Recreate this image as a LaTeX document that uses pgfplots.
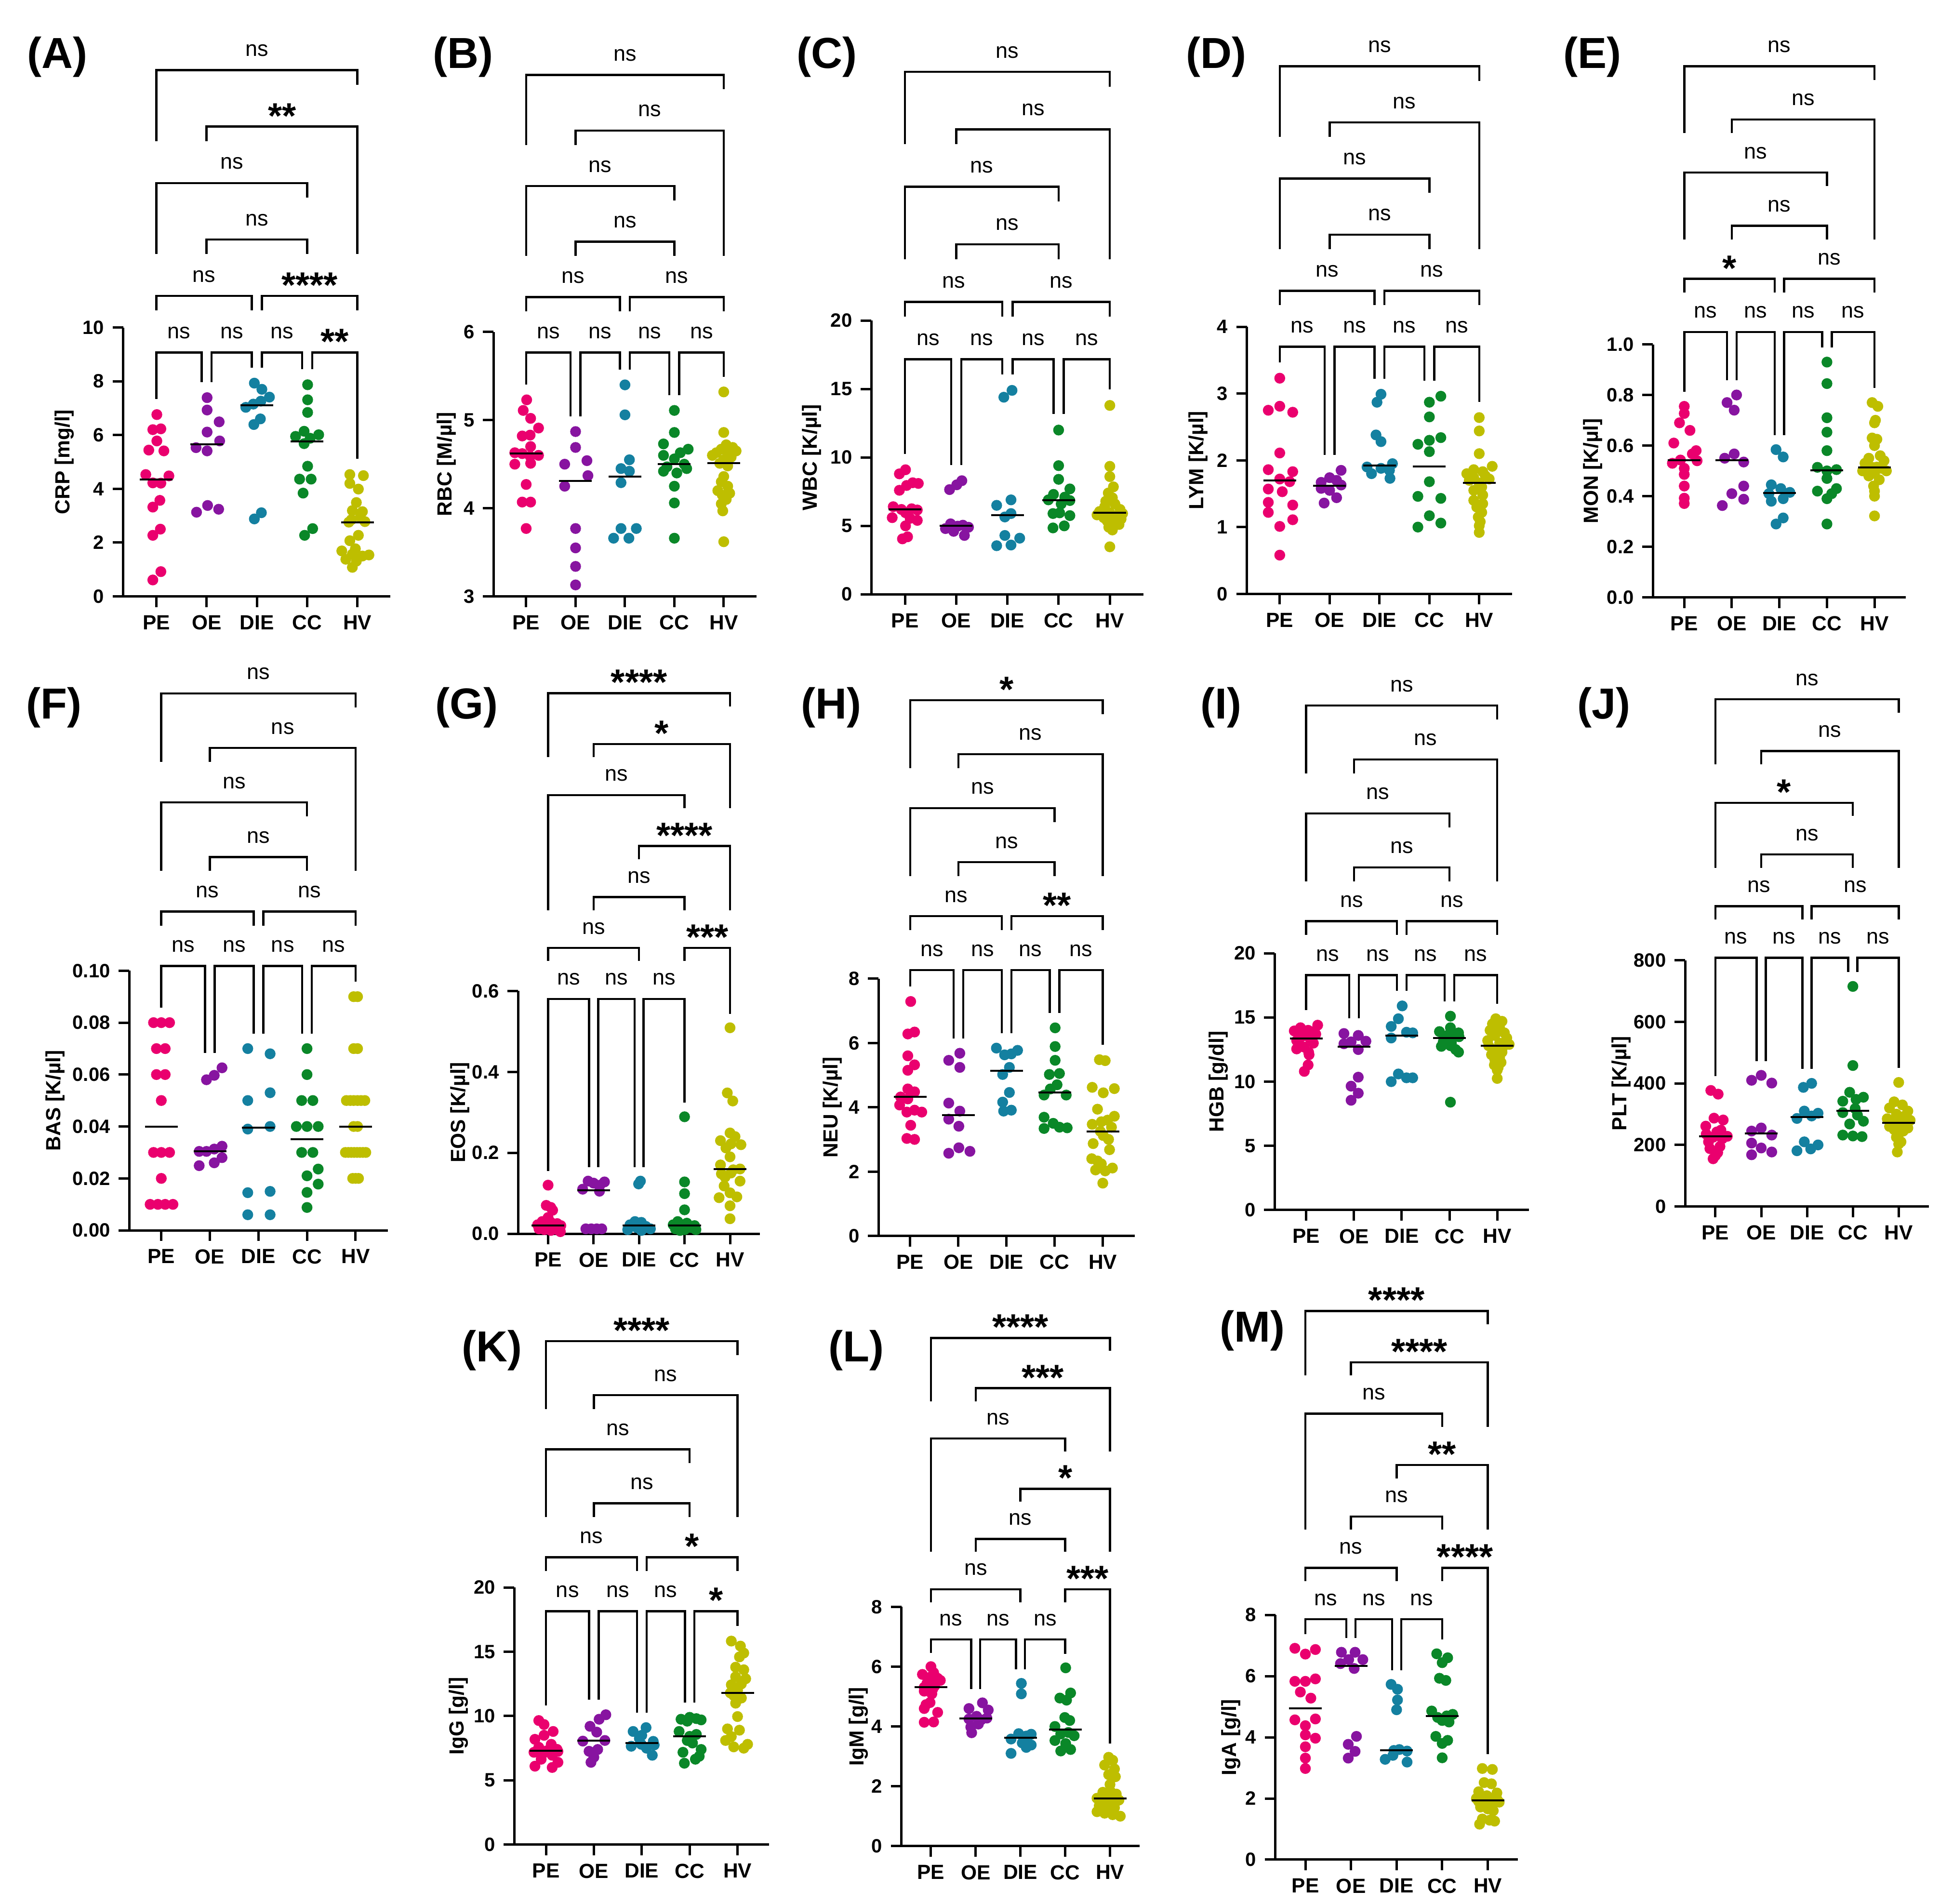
\documentclass[border=0pt]{standalone}
\usepackage{fontspec}
\setmainfont{Liberation Sans}
\usepackage{pgfplots}
\pgfplotsset{compat=1.18}
\definecolor{cpe}{RGB}{234,0,110}
\definecolor{coe}{RGB}{135,20,160}
\definecolor{cdie}{RGB}{20,128,160}
\definecolor{ccc}{RGB}{10,135,40}
\definecolor{chv}{RGB}{190,190,0}
\tikzset{
 brk/.style={line width=0.9pt, black, line join=miter},
 lns/.style={anchor=base, yshift=5.8pt, inner sep=0pt, font=\fontsize{9}{10}\selectfont},
 lst/.style={anchor=base, yshift=-0.7pt, inner sep=0pt, font=\bfseries\fontsize{15}{16}\selectfont},
}
\pgfplotsset{
 gp/.style={
  scale only axis, clip=false, anchor=south west,
  axis x line*=bottom, axis y line*=left,
  axis line style={line width=1pt},
  xmin=-0.66, xmax=4.66,
  xtick={0,1,2,3,4}, xticklabels={PE,OE,DIE,CC,HV},
  tick align=outside, major tick length=4.4pt,
  tick style={line width=1pt, black},
  minor tick num=0,
  scaled y ticks=false,
  /pgf/number format/assume math mode=true,
  yticklabel style={font=\bfseries\fontsize{8}{9}\selectfont},
  xticklabel style={font=\bfseries\fontsize{8.5}{10}\selectfont},
  ylabel style={font=\bfseries\fontsize{8.5}{10}\selectfont, anchor=center},
 },
 gpe/.style={only marks, mark=*, mark size=2.05pt, color=cpe},
 goe/.style={only marks, mark=*, mark size=2.05pt, color=coe},
 gdie/.style={only marks, mark=*, mark size=2.05pt, color=cdie},
 gcc/.style={only marks, mark=*, mark size=2.05pt, color=ccc},
 ghv/.style={only marks, mark=*, mark size=2.05pt, color=chv},
 med/.style={only marks, mark=-, mark size=6.8pt, color=black, mark options={line width=0.8pt}},
}
\def\Sp{0.21}
\def\Gp{0.156}
\def\nstxt{ns}
\newcommand\brk[6]{%
  \pgfmathsetmacro\bT{\Lone+(#3-1)*\Sp}%
  \pgfmathsetmacro\bL{ifthenelse(#4<0,\Lone+(-1*(#4)-1)*\Sp+\Gp,#4)}%
  \pgfmathsetmacro\bR{ifthenelse(#5<0,\Lone+(-1*(#5)-1)*\Sp+\Gp,#5)}%
  \pgfmathsetmacro\bM{(#1+#2)/2}%
  \def\btxt{#6}%
  \ifx\btxt\nstxt\def\bsty{lns}\else\def\bsty{lst}\fi
  \edef\btmp{\noexpand\draw[brk] ({axis cs:#1,0}|-{rel axis cs:0,\bL}) -- ({axis cs:#1,0}|-{rel axis cs:0,\bT}) -- ({axis cs:#2,0}|-{rel axis cs:0,\bT}) -- ({axis cs:#2,0}|-{rel axis cs:0,\bR});
   \noexpand\node[\bsty] at ({axis cs:\bM,0}|-{rel axis cs:0,\bT}) {#6};}%
  \btmp}
\begin{document}
\begin{tikzpicture}
\path[use as bounding box] (0,0) rectangle (810.6pt,-790pt);
%% ---------------- A
\begin{axis}[gp, at={(51.12pt,-247.5pt)}, width=110.98pt, height=111.6pt,
 ymin=0, ymax=10, ytick={0,2,4,6,8,10}, ylabel={CRP [mg/l]},
 ylabel style={at={(axis description cs:-0.220,0.5)}}]
\addplot[gpe] table[x expr=\thisrow{d},y=v]{d v
0.01 6.76
-0.07 6.2
0.09 6.23
0.01 5.78
-0.15 5.44
0.15 5.41
-0.21 4.53
0.25 4.48
-0.07 4.22
0.09 4.21
0.07 3.57
-0.07 3.32
0.08 2.5
-0.07 2.27
0.09 0.92
-0.07 0.61
};
\addplot[goe] table[x expr=1+\thisrow{d},y=v]{d v
0.01 7.39
0.01 6.93
0.25 6.49
0.01 6.11
0.26 5.78
-0.21 5.53
0.01 5.41
0.02 3.38
-0.2 3.13
0.24 3.24
};
\addplot[gdie] table[x expr=2+\thisrow{d},y=v]{d v
-0.05 7.93
0.1 7.70
0.25 7.41
0.08 7.26
-0.07 7.15
-0.22 7.03
0.07 6.6
-0.06 6.39
0.09 3.11
-0.05 2.88
};
\addplot[gcc] table[x expr=3+\thisrow{d},y=v]{d v
0.01 7.87
0.01 7.31
0.01 6.84
-0.06 6.14
0.23 6.01
-0.23 5.95
0.06 5.88
-0.06 5.68
0.01 4.84
-0.15 4.36
0.08 4.36
-0.08 3.84
0.11 2.52
-0.05 2.27
};
\addplot[ghv] table[x expr=4+\thisrow{d},y=v]{d v
-0.15 4.53
0.12 4.49
-0.15 4.2
0.02 3.99
-0.02 3.49
-0.1 3.19
0.1 3.15
0.06 2.95
-0.12 2.85
0.15 2.78
-0.17 2.76
0.02 2.27
-0.15 2.07
-0.04 1.77
-0.31 1.69
-0.1 1.57
0.23 1.54
0.1 1.5
-0.23 1.38
-0.02 1.31
-0.1 1.08
};
\addplot[med] coordinates {(0,4.34) (1,5.65) (2,7.1) (3,5.76) (4,2.76)};
\def\Lone{0.907}
\brk{0}{0.9}{1}{0.734}{0.797}{ns}
\brk{1.1}{1.9}{1}{0.797}{0.851}{ns}
\brk{2.1}{2.9}{1}{0.851}{0.845}{ns}
\brk{3.1}{4}{1}{0.845}{0.511}{**}
\brk{0}{1.9}{2}{-1}{-1}{ns}
\brk{2.1}{4}{2}{-1}{-1}{****}
\brk{1}{3}{3}{-2}{-2}{ns}
\brk{0}{3}{4}{-2}{-3}{ns}
\brk{1}{4}{5}{-4}{-2}{**}
\brk{0}{4}{6}{-4}{-5}{ns}
\end{axis}
%% ---------------- B
\begin{axis}[gp, at={(204.86pt,-247.5pt)}, width=109.06pt, height=109.72pt,
 ymin=3, ymax=6, ytick={3,4,5,6}, ylabel={RBC [M/µl]},
 ylabel style={at={(axis description cs:-0.179,0.5)}}]
\addplot[gpe] table[x expr=\thisrow{d},y=v]{d v
0.01 5.23
-0.06 5.11
0.09 5.02
0.25 4.91
-0.08 4.82
0.08 4.83
0.09 4.70
-0.23 4.63
-0.08 4.62
0.25 4.60
0.08 4.59
-0.23 4.50
0.09 4.51
0 4.27
-0.08 4.07
0.09 4.07
0 3.77
};
\addplot[goe] table[x expr=1+\thisrow{d},y=v]{d v
0 4.87
0 4.69
-0.22 4.50
0.23 4.54
0.25 4.37
-0.22 4.25
0 3.77
0 3.55
0 3.34
0 3.13
};
\addplot[gdie] table[x expr=2+\thisrow{d},y=v]{d v
0 5.40
0 5.06
0.09 4.55
-0.08 4.45
0.09 4.42
-0.08 4.29
-0.08 3.77
0.23 3.77
-0.23 3.66
0.08 3.66
};
\addplot[gcc] table[x expr=3+\thisrow{d},y=v]{d v
0 5.11
0 4.86
-0.22 4.73
0.28 4.67
0.12 4.63
-0.22 4.60
0 4.56
0.2 4.50
-0.15 4.47
0.25 4.45
-0.22 4.42
0.05 4.40
0 4.25
0 4.06
0 3.66
};
\addplot[ghv] table[x expr=4+\thisrow{d},y=v]{d v
0 5.32
0 4.86
0.05 4.72
0.18 4.69
-0.05 4.67
0.25 4.65
-0.15 4.63
0.08 4.62
-0.23 4.60
0.15 4.58
0 4.55
-0.08 4.51
0.08 4.48
0 4.36
-0.05 4.30
0.08 4.25
-0.12 4.20
0.12 4.17
-0.03 4.15
0.05 4.10
-0.05 4.05
-0.02 3.97
0 3.62
};
\addplot[med] coordinates {(0,4.62) (1,4.31) (2,4.36) (3,4.50) (4,4.51)};
\def\Lone{0.922}
\brk{0}{0.9}{1}{0.801}{0.681}{ns}
\brk{1.1}{1.9}{1}{0.681}{0.858}{ns}
\brk{2.1}{2.9}{1}{0.858}{0.761}{ns}
\brk{3.1}{4}{1}{0.761}{0.831}{ns}
\brk{0}{1.9}{2}{-1}{-1}{ns}
\brk{2.1}{4}{2}{-1}{-1}{ns}
\brk{1}{3}{3}{-2}{-2}{ns}
\brk{0}{3}{4}{-2}{-3}{ns}
\brk{1}{4}{5}{-4}{-2}{ns}
\brk{0}{4}{6}{-4}{-5}{ns}
\end{axis}
%% ---------------- C
\begin{axis}[gp, at={(361.6pt,-246.64pt)}, width=113.05pt, height=113.6pt,
 ymin=0, ymax=20, ytick={0,5,10,15,20}, ylabel={WBC [K/µl]},
 ylabel style={at={(axis description cs:-0.219,0.5)}}]
\addplot[gpe] table[x expr=\thisrow{d},y=v]{d v
0.01 9.1
-0.11 8.8
0.15 8.15
0.26 8.1
0.03 7.95
-0.11 7.6
-0.23 6.4
0.13 6.25
-0.07 6.2
0.24 6.16
0.01 5.96
-0.25 5.6
0.1 5.55
0.24 5.4
0.01 5.0
0.05 4.2
-0.05 4.05
};
\addplot[goe] table[x expr=1+\thisrow{d},y=v]{d v
0.11 8.3
0.01 8.0
-0.13 7.65
-0.11 5.15
0.13 5.05
0.03 4.98
0.24 4.9
-0.21 4.8
-0.05 4.6
0.16 4.3
};
\addplot[gdie] table[x expr=2+\thisrow{d},y=v]{d v
0.09 14.9
-0.07 14.4
0.07 6.9
-0.21 6.5
0.07 5.9
-0.05 5.65
-0.05 4.3
0.24 4.1
0.07 3.6
-0.21 3.55
};
\addplot[gcc] table[x expr=3+\thisrow{d},y=v]{d v
0 12.0
0 9.4
0 8.4
0.22 7.7
-0.1 7.3
0.12 7.1
-0.2 6.9
0.22 6.85
0.05 6.6
0.02 5.95
-0.11 5.9
0.22 5.75
0.11 5.0
-0.11 4.85
};
\addplot[ghv] table[x expr=4+\thisrow{d},y=v]{d v
0 13.8
0 9.35
0 8.6
0.07 7.85
-0.03 7.4
0.05 7.05
-0.08 6.8
0.1 6.6
-0.1 6.4
0.2 6.2
-0.2 6.05
0 5.96
0.25 5.9
-0.25 5.8
0.12 5.7
-0.12 5.6
0.22 5.5
-0.05 5.35
0.08 5.2
0.18 5.1
-0.02 4.9
0.05 4.7
0 3.47
};
\addplot[med] coordinates {(0,6.2) (1,5.0) (2,5.8) (3,6.87) (4,5.96)};
\def\Lone{0.8586}
\brk{0}{0.9}{1}{0.513}{0.473}{ns}
\brk{1.1}{1.9}{1}{0.473}{0.803}{ns}
\brk{2.1}{2.9}{1}{0.803}{0.658}{ns}
\brk{3.1}{4}{1}{0.658}{0.748}{ns}
\brk{0}{1.9}{2}{-1}{-1}{ns}
\brk{2.1}{4}{2}{-1}{-1}{ns}
\brk{1}{3}{3}{-2}{-2}{ns}
\brk{0}{3}{4}{-2}{-3}{ns}
\brk{1}{4}{5}{-4}{-2}{ns}
\brk{0}{4}{6}{-4}{-5}{ns}
\end{axis}
%% ---------------- D
\begin{axis}[gp, at={(517.5pt,-246.46pt)}, width=110.12pt, height=110.84pt,
 ymin=0, ymax=4, ytick={0,1,2,3,4}, ylabel={LYM [K/µl]},
 ylabel style={at={(axis description cs:-0.183,0.5)}}]
\addplot[gpe] table[x expr=\thisrow{d},y=v]{d v
0 3.23
0 2.81
-0.23 2.75
0.26 2.72
0 2.11
-0.23 1.86
0.26 1.83
0 1.72
0.2 1.68
-0.23 1.57
0.05 1.53
-0.23 1.37
0.26 1.33
-0.23 1.22
0.26 1.11
0 1.01
0 0.58
};
\addplot[goe] table[x expr=1+\thisrow{d},y=v]{d v
0.23 1.85
0 1.74
0.14 1.70
-0.17 1.67
0.23 1.63
-0.17 1.58
0 1.55
0.14 1.44
-0.11 1.36
};
\addplot[gdie] table[x expr=2+\thisrow{d},y=v]{d v
0.03 2.99
-0.05 2.87
-0.07 2.38
0.03 2.28
0.26 1.95
-0.25 1.90
0.03 1.88
0.2 1.85
-0.16 1.80
0.21 1.73
};
\addplot[gcc] table[x expr=3+\thisrow{d},y=v]{d v
0.23 2.96
0 2.87
0 2.65
0.23 2.34
0 2.3
-0.23 2.24
0 2.13
0 1.68
-0.23 1.46
0.23 1.43
0 1.17
0.23 1.06
-0.23 1.0
};
\addplot[ghv] table[x expr=4+\thisrow{d},y=v]{d v
0 2.64
0 2.44
0 2.10
0.26 1.91
-0.11 1.86
0.07 1.83
-0.25 1.80
0.12 1.77
-0.11 1.74
0.2 1.72
-0.2 1.70
0 1.66
0.05 1.60
-0.11 1.55
0.07 1.48
-0.11 1.40
0.07 1.35
-0.05 1.30
0.05 1.22
-0.02 1.15
0.02 1.08
0 1.02
0 0.92
};
\addplot[med] coordinates {(0,1.70) (1,1.62) (2,1.92) (3,1.91) (4,1.66)};
\def\Lone{0.925}
\brk{0}{0.9}{1}{0.866}{0.521}{ns}
\brk{1.1}{1.9}{1}{0.521}{0.806}{ns}
\brk{2.1}{2.9}{1}{0.806}{0.798}{ns}
\brk{3.1}{4}{1}{0.798}{0.718}{ns}
\brk{0}{1.9}{2}{-1}{-1}{ns}
\brk{2.1}{4}{2}{-1}{-1}{ns}
\brk{1}{3}{3}{-2}{-2}{ns}
\brk{0}{3}{4}{-2}{-3}{ns}
\brk{1}{4}{5}{-4}{-2}{ns}
\brk{0}{4}{6}{-4}{-5}{ns}
\end{axis}
%% ---------------- E
\begin{axis}[gp, at={(686.02pt,-247.92pt)}, width=105.02pt, height=105pt,
 ymin=0, ymax=1, ytick={0,0.2,0.4,0.6,0.8,1}, ylabel={MON [K/µl]},
 yticklabel style={/pgf/number format/.cd, fixed, fixed zerofill, precision=1},
 ylabel style={at={(axis description cs:-0.238,0.5)}}]
\addplot[gpe] table[x expr=\thisrow{d},y=v]{d v
0 0.755
0 0.727
-0.1 0.69
0.12 0.66
-0.22 0.61
0.25 0.58
0.17 0.567
-0.08 0.543
0.27 0.54
-0.25 0.53
0 0.51
0 0.486
0 0.44
0 0.392
0 0.371
};
\addplot[goe] table[x expr=1+\thisrow{d},y=v]{d v
0.1 0.80
-0.1 0.77
0.05 0.74
0.05 0.567
-0.15 0.55
0.25 0.535
0.25 0.44
0 0.41
0.25 0.388
-0.2 0.363
};
\addplot[gdie] table[x expr=2+\thisrow{d},y=v]{d v
-0.07 0.584
0.08 0.555
-0.17 0.445
0.03 0.43
0.22 0.415
-0.22 0.41
0.08 0.39
-0.17 0.38
0.08 0.314
-0.07 0.29
};
\addplot[gcc] table[x expr=3+\thisrow{d},y=v]{d v
0 0.93
0 0.845
0 0.71
0 0.653
0 0.58
-0.2 0.514
0.2 0.505
0 0.50
0 0.47
0.2 0.43
-0.2 0.42
0.1 0.41
0 0.39
0 0.29
};
\addplot[ghv] table[x expr=4+\thisrow{d},y=v]{d v
-0.05 0.77
0.07 0.755
0.02 0.70
0 0.69
-0.05 0.63
0.05 0.625
0 0.60
0.12 0.56
-0.12 0.55
0.2 0.54
-0.2 0.53
0.05 0.515
-0.05 0.514
0.15 0.51
-0.25 0.50
0.25 0.50
0 0.49
-0.12 0.48
0.1 0.465
-0.02 0.44
0 0.42
0 0.40
0 0.322
};
\addplot[med] coordinates {(0,0.543) (1,0.543) (2,0.412) (3,0.503) (4,0.514)};
\def\Lone{1.049}
\brk{0}{0.9}{1}{0.813}{0.858}{ns}
\brk{1.1}{1.9}{1}{0.858}{0.642}{ns}
\brk{2.1}{2.9}{1}{0.642}{0.988}{ns}
\brk{3.1}{4}{1}{0.988}{0.828}{ns}
\brk{0}{1.9}{2}{-1}{-1}{*}
\brk{2.1}{4}{2}{-1}{-1}{ns}
\brk{1}{3}{3}{-2}{-2}{ns}
\brk{0}{3}{4}{-2}{-3}{ns}
\brk{1}{4}{5}{-4}{-2}{ns}
\brk{0}{4}{6}{-4}{-5}{ns}
\end{axis}
%% ---------------- F
\begin{axis}[gp, at={(53.64pt,-510.6pt)}, width=107.26pt, height=107.74pt,
 ymin=0, ymax=0.1, ytick={0,0.02,0.04,0.06,0.08,0.1}, ylabel={BAS [K/µl]},
 yticklabel style={/pgf/number format/.cd, fixed, fixed zerofill, precision=2},
 ylabel style={at={(axis description cs:-0.287,0.5)}}]
\addplot[gpe] table[x expr=\thisrow{d},y=v]{d v
-0.16 0.08
0 0.08
0.17 0.08
-0.1 0.07
0.08 0.07
-0.1 0.06
0.08 0.06
0 0.05
-0.16 0.03
0 0.03
0.17 0.03
0 0.02
-0.23 0.01
-0.07 0.01
0.08 0.01
0.24 0.01
};
\addplot[goe] table[x expr=1+\thisrow{d},y=v]{d v
0.25 0.0626
0.09 0.0597
-0.07 0.058
0.25 0.0324
0.09 0.0313
-0.22 0.0304
-0.07 0.0304
0.25 0.028
0.09 0.026
-0.22 0.0249
};
\addplot[gdie] table[x expr=2+\thisrow{d},y=v]{d v
-0.22 0.07
0.24 0.068
0.24 0.053
-0.22 0.05
0.24 0.04
-0.22 0.039
0.24 0.015
-0.22 0.0145
-0.22 0.006
0.24 0.006
};
\addplot[gcc] table[x expr=3+\thisrow{d},y=v]{d v
0 0.07
0 0.06
-0.11 0.05
0.12 0.05
-0.22 0.04
0 0.04
0.23 0.04
-0.11 0.03
0.12 0.03
0.23 0.0236
0 0.021
0.23 0.0178
0 0.0146
0 0.0088
};
\addplot[ghv] table[x expr=4+\thisrow{d},y=v]{d v
-0.04 0.09
0.04 0.09
-0.04 0.07
0.04 0.07
-0.19 0.05
-0.11 0.05
-0.04 0.05
0.04 0.05
0.11 0.05
0.19 0.05
-0.04 0.04
0.04 0.04
-0.21 0.03
-0.15 0.03
-0.09 0.03
-0.03 0.03
0.03 0.03
0.09 0.03
0.15 0.03
0.21 0.03
-0.06 0.02
0 0.02
0.06 0.02
};
\addplot[med] coordinates {(0,0.04) (1,0.0305) (2,0.0395) (3,0.035) (4,0.04)};
\def\Lone{1.018}
\brk{0}{0.9}{1}{0.858}{0.684}{ns}
\brk{1.1}{1.9}{1}{0.684}{0.758}{ns}
\brk{2.1}{2.9}{1}{0.758}{0.758}{ns}
\brk{3.1}{4}{1}{0.758}{0.958}{ns}
\brk{0}{1.9}{2}{-1}{-1}{ns}
\brk{2.1}{4}{2}{-1}{-1}{ns}
\brk{1}{3}{3}{-2}{-2}{ns}
\brk{0}{3}{4}{-2}{-3}{ns}
\brk{1}{4}{5}{-4}{-2}{ns}
\brk{0}{4}{6}{-4}{-5}{ns}
\end{axis}
%% ---------------- G
\begin{axis}[gp, at={(215.02pt,-512pt)}, width=100.44pt, height=100.74pt,
 ymin=0, ymax=0.6, ytick={0,0.2,0.4,0.6}, ylabel={EOS [K/µl]},
 yticklabel style={/pgf/number format/.cd, fixed, fixed zerofill, precision=1},
 ylabel style={at={(axis description cs:-0.240,0.5)}}]
\addplot[gpe] table[x expr=\thisrow{d},y=v]{d v
0 0.12
-0.04 0.07
0.06 0.065
0.1 0.058
0 0.04
-0.13 0.03
0.06 0.028
0.2 0.025
-0.23 0.022
0.28 0.02
-0.06 0.018
0.13 0.015
-0.2 0.012
0.2 0.01
-0.08 0.01
0.06 0.008
0.27 0.005
};
\addplot[goe] table[x expr=1+\thisrow{d},y=v]{d v
-0.12 0.13
0.24 0.128
0 0.125
0.14 0.12
-0.24 0.11
0.13 0.105
-0.17 0.012
-0.05 0.012
0.07 0.012
0.18 0.012
};
\addplot[gdie] table[x expr=2+\thisrow{d},y=v]{d v
0.03 0.13
-0.01 0.123
-0.09 0.03
0.05 0.028
-0.2 0.022
0.15 0.018
-0.05 0.015
0.25 0.012
-0.25 0.01
0.05 0.008
};
\addplot[gcc] table[x expr=3+\thisrow{d},y=v]{d v
0 0.289
0 0.128
0 0.099
0 0.059
-0.15 0.03
0.05 0.026
-0.25 0.022
0.22 0.02
-0.05 0.018
0.15 0.015
-0.2 0.012
0.25 0.01
0 0.01
-0.1 0.008
};
\addplot[ghv] table[x expr=4+\thisrow{d},y=v]{d v
0 0.509
-0.06 0.348
0.06 0.328
0 0.249
0.11 0.24
-0.21 0.23
0.02 0.222
0.24 0.22
-0.09 0.212
0 0.19
-0.21 0.17
0.22 0.16
0.07 0.158
0.02 0.15
-0.19 0.148
-0.11 0.14
0.22 0.13
-0.13 0.118
0 0.101
0.15 0.091
-0.24 0.089
0 0.069
0 0.037
};
\addplot[med] coordinates {(0,0.02) (1,0.107) (2,0.02) (3,0.02) (4,0.16)};
\def\Lone{0.967}
\brk{0}{0.9}{1}{0.258}{0.275}{ns}
\brk{1.1}{1.9}{1}{0.275}{0.275}{ns}
\brk{2.1}{3}{1}{0.275}{0.540}{ns}
\brk{0}{2}{2}{-1}{-1}{ns}
\brk{3}{4}{2}{-1}{0.906}{***}
\brk{1}{3}{3}{-2}{-2}{ns}
\brk{2}{4}{4}{-3}{-2}{****}
\brk{0}{3}{5}{-2}{-4}{ns}
\brk{1}{4}{6}{-5}{-4}{*}
\brk{0}{4}{7}{-5}{-6}{****}
\end{axis}
%% ---------------- H
\begin{axis}[gp, at={(364.6pt,-512.9pt)}, width=106.3pt, height=106.74pt,
 ymin=0, ymax=8, ytick={0,2,4,6,8}, ylabel={NEU [K/µl]},
 ylabel style={at={(axis description cs:-0.179,0.5)}}]
\addplot[gpe] table[x expr=\thisrow{d},y=v]{d v
0.01 7.29
0.09 6.34
-0.05 6.28
-0.05 5.6
0.09 5.32
-0.05 5.15
-0.05 4.57
0.09 4.48
-0.2 4.32
-0.05 4.26
-0.22 4.07
0.09 3.91
-0.07 3.85
0.24 3.85
0.01 3.44
-0.07 3.03
0.09 3.0
};
\addplot[goe] table[x expr=1+\thisrow{d},y=v]{d v
0.03 5.68
-0.2 5.46
0.03 5.24
-0.2 4.13
0.03 3.88
-0.2 3.63
0.01 3.41
0.01 2.74
0.24 2.63
-0.2 2.57
};
\addplot[gdie] table[x expr=2+\thisrow{d},y=v]{d v
-0.21 5.84
0.23 5.77
0.1 5.66
-0.04 5.63
0.06 5.24
-0.08 5.02
0.06 4.46
-0.08 4.16
0.1 3.91
-0.06 3.88
};
\addplot[gcc] table[x expr=3+\thisrow{d},y=v]{d v
0.01 6.47
0.01 5.89
0.01 5.46
0.1 5.05
-0.11 5.02
0.05 4.7
-0.09 4.57
-0.22 4.38
0.24 4.38
-0.22 3.69
-0.03 3.5
0.1 3.38
0.26 3.36
-0.22 3.34
};
\addplot[ghv] table[x expr=4+\thisrow{d},y=v]{d v
-0.07 5.48
0.05 5.45
-0.22 4.62
0.24 4.58
0.01 4.45
-0.11 3.94
0.24 3.72
0.1 3.6
-0.03 3.55
-0.22 3.47
0.18 3.38
-0.05 3.25
0.01 3.12
0.12 3.0
-0.2 2.87
0.14 2.68
-0.23 2.4
-0.11 2.33
-0.03 2.24
0.2 2.11
-0.15 2.05
0.05 2.02
0 1.64
};
\addplot[med] coordinates {(0,4.32) (1,3.76) (2,5.14) (3,4.46) (4,3.25)};
\def\Lone{1.033}
\brk{0}{0.9}{1}{0.969}{0.768}{ns}
\brk{1.1}{1.9}{1}{0.768}{0.788}{ns}
\brk{2.1}{2.9}{1}{0.788}{0.867}{ns}
\brk{3.1}{4}{1}{0.867}{0.743}{ns}
\brk{0}{1.9}{2}{-1}{-1}{ns}
\brk{2.1}{4}{2}{-1}{-1}{**}
\brk{1}{3}{3}{-2}{-2}{ns}
\brk{0}{3}{4}{-2}{-3}{ns}
\brk{1}{4}{5}{-4}{-2}{ns}
\brk{0}{4}{6}{-4}{-5}{*}
\end{axis}
%% ---------------- I
\begin{axis}[gp, at={(529.06pt,-502.18pt)}, width=105.44pt, height=106.56pt,
 ymin=0, ymax=20, ytick={0,5,10,15,20}, ylabel={HGB [g/dl]},
 ylabel style={at={(axis description cs:-0.222,0.5)}}]
\addplot[gpe] table[x expr=\thisrow{d},y=v]{d v
0.24 14.4
-0.12 14.2
0.04 14.0
-0.25 13.95
0.15 13.9
-0.02 13.85
0.2 13.7
-0.1 13.5
0.08 13.35
-0.2 13.2
0.15 13.0
-0.05 12.7
-0.2 12.55
0.05 12.3
0.06 12.1
0.04 11.3
-0.04 10.8
};
\addplot[goe] table[x expr=1+\thisrow{d},y=v]{d v
-0.21 13.75
0.09 13.6
0.25 13.15
-0.06 13.1
-0.21 12.95
0.09 12.5
0.09 10.35
-0.06 9.65
0.09 9.1
-0.06 8.55
};
\addplot[gdie] table[x expr=2+\thisrow{d},y=v]{d v
0.01 15.9
-0.07 14.9
-0.22 14.3
0.1 13.85
0.23 13.8
-0.22 13.4
-0.07 10.6
0.1 10.3
0.23 10.3
-0.22 10.0
};
\addplot[gcc] table[x expr=3+\thisrow{d},y=v]{d v
0.02 15.1
0.02 14.2
-0.21 13.9
0.19 13.8
-0.04 13.6
0.2 13.5
0.08 13.45
-0.12 13.4
-0.13 13.1
0.04 13.0
0.02 12.8
-0.17 12.75
0.13 12.5
0.19 12.3
0.02 8.4
};
\addplot[ghv] table[x expr=4+\thisrow{d},y=v]{d v
-0.03 14.9
0.1 14.7
-0.1 14.5
0.05 14.2
-0.15 14.0
0.15 13.8
-0.05 13.6
0.2 13.4
-0.2 13.2
0.05 13.0
0.25 12.9
-0.18 12.8
0.12 12.7
-0.08 12.5
0.1 12.3
-0.12 12.1
0.05 11.9
-0.05 11.7
0.08 11.5
-0.06 11.3
0.02 11.1
0 10.9
0 10.25
};
\addplot[med] coordinates {(0,13.35) (1,12.73) (2,13.6) (3,13.4) (4,12.8)};
\def\Lone{0.9148}
\brk{0}{0.9}{1}{0.778}{0.746}{ns}
\brk{1.1}{1.9}{1}{0.746}{0.853}{ns}
\brk{2.1}{2.9}{1}{0.853}{0.813}{ns}
\brk{3.1}{4}{1}{0.813}{0.803}{ns}
\brk{0}{1.9}{2}{-1}{-1}{ns}
\brk{2.1}{4}{2}{-1}{-1}{ns}
\brk{1}{3}{3}{-2}{-2}{ns}
\brk{0}{3}{4}{-2}{-3}{ns}
\brk{1}{4}{5}{-4}{-2}{ns}
\brk{0}{4}{6}{-4}{-5}{ns}
\end{axis}
%% ---------------- J
\begin{axis}[gp, at={(699.42pt,-500.7pt)}, width=101.18pt, height=102.18pt,
 ymin=0, ymax=800, ytick={0,200,400,600,800}, ylabel={PLT [K/µl]},
 ylabel style={at={(axis description cs:-0.263,0.5)}}]
\addplot[gpe] table[x expr=\thisrow{d},y=v]{d v
-0.1 377
0.06 365
-0.03 287
0.17 281
-0.21 261
0.12 248
0.03 242
-0.2 235
0.26 228
-0.05 225
0.15 220
-0.15 210
0.1 195
-0.12 188
0.05 175
0 165
-0.05 155
};
\addplot[goe] table[x expr=1+\thisrow{d},y=v]{d v
0 426
-0.21 410
0.23 401
0 255
-0.21 245
0.23 232
-0.21 206
0 190
0.23 177
-0.21 168
};
\addplot[gdie] table[x expr=2+\thisrow{d},y=v]{d v
0.1 400
-0.08 387
-0.06 310
0.24 303
0.1 294
-0.22 286
-0.06 210
0.24 200
0.08 187
-0.22 181
};
\addplot[gcc] table[x expr=3+\thisrow{d},y=v]{d v
0 715
0 458
-0.07 371
0.23 355
0.07 348
-0.22 342
0.05 318
-0.22 305
0.1 297
0.23 277
-0.07 268
-0.22 232
0 229
0.2 227
};
\addplot[ghv] table[x expr=4+\thisrow{d},y=v]{d v
0 403
-0.1 340
0.08 330
-0.2 320
0.2 310
-0.05 300
0.1 292
-0.25 285
0.25 280
0 277
-0.15 274
0.15 271
-0.05 268
0.05 265
-0.2 260
0.2 255
-0.1 250
0.1 245
0 235
-0.05 225
0.05 210
0 203
-0.03 177
};
\addplot[med] coordinates {(0,228) (1,238) (2,290) (3,311) (4,271)};
\def\Lone{1.0098}
\brk{0}{0.9}{1}{0.529}{0.591}{ns}
\brk{1.1}{1.9}{1}{0.591}{0.558}{ns}
\brk{2.1}{2.9}{1}{0.558}{0.952}{ns}
\brk{3.1}{4}{1}{0.952}{0.562}{ns}
\brk{0}{1.9}{2}{-1}{-1}{ns}
\brk{2.1}{4}{2}{-1}{-1}{ns}
\brk{1}{3}{3}{-2}{-2}{ns}
\brk{0}{3}{4}{-2}{-3}{*}
\brk{1}{4}{5}{-4}{-2}{ns}
\brk{0}{4}{6}{-4}{-5}{ns}
\end{axis}
%% ---------------- K
\begin{axis}[gp, at={(213.48pt,-765.54pt)}, width=105.76pt, height=106.72pt,
 ymin=0, ymax=20, ytick={0,5,10,15,20}, ylabel={IgG [g/l]},
 ylabel style={at={(axis description cs:-0.219,0.5)}}]
\addplot[gpe] table[x expr=\thisrow{d},y=v]{d v
-0.15 9.65
-0.04 9.34
0.15 8.8
-0.04 8.5
-0.23 8.19
0.11 7.8
-0.15 7.57
0.23 7.41
0.02 7.3
0.25 7.25
-0.25 7.18
-0.06 7.1
0.13 6.95
-0.1 6.64
0.25 6.4
-0.23 6.1
0.13 6.0
};
\addplot[goe] table[x expr=1+\thisrow{d},y=v]{d v
0.25 10.1
0.11 9.75
-0.08 9.2
0.06 8.75
0.23 8.1
-0.23 8.05
0.08 7.4
-0.1 7.26
0 6.8
-0.06 6.4
};
\addplot[gdie] table[x expr=2+\thisrow{d},y=v]{d v
0.09 9.1
-0.18 8.8
0 8.5
-0.05 8.26
0.24 8.03
-0.01 7.8
0.26 7.75
-0.22 7.65
0.1 7.5
0.22 6.95
};
\addplot[gcc] table[x expr=3+\thisrow{d},y=v]{d v
0 9.9
0.14 9.8
-0.18 9.75
0.24 9.7
-0.05 9.6
-0.22 8.8
0.14 8.57
0 8.42
-0.05 8.1
0.06 7.9
0.24 7.4
-0.14 7.18
0.2 6.87
0.12 6.64
-0.11 6.33
};
\addplot[ghv] table[x expr=4+\thisrow{d},y=v]{d v
-0.13 15.83
0.06 15.44
0.13 14.9
0.04 14.6
-0.04 13.8
0.13 13.6
-0.04 13.05
0.17 12.9
0.08 12.5
-0.13 12.43
0 12.0
-0.15 11.8
-0.08 11.6
0.08 11.4
-0.04 11.0
0 9.96
-0.21 9.0
0.04 8.9
-0.13 8.4
-0.25 8.1
0.21 7.8
-0.08 7.6
0.13 7.5
};
\addplot[med] coordinates {(0,7.3) (1,8.08) (2,7.9) (3,8.42) (4,11.8)};
\def\Lone{0.9076}
\brk{0}{0.9}{1}{0.541}{0.563}{ns}
\brk{1.1}{1.9}{1}{0.563}{0.513}{ns}
\brk{2.1}{2.9}{1}{0.513}{0.553}{ns}
\brk{3.1}{4}{1}{0.553}{0.850}{*}
\brk{0}{1.9}{2}{-1}{-1}{ns}
\brk{2.1}{4}{2}{-1}{-1}{*}
\brk{1}{3}{3}{-2}{-2}{ns}
\brk{0}{3}{4}{-2}{-3}{ns}
\brk{1}{4}{5}{-4}{-2}{ns}
\brk{0}{4}{6}{-4}{-5}{****}
\end{axis}
%% ---------------- L
\begin{axis}[gp, at={(374.12pt,-766.16pt)}, width=98.84pt, height=99.3pt,
 ymin=0, ymax=8, ytick={0,2,4,6,8}, ylabel={IgM [g/l]},
 ylabel style={at={(axis description cs:-0.180,0.5)}}]
\addplot[gpe] table[x expr=\thisrow{d},y=v]{d v
0 6.0
0.06 5.8
-0.19 5.74
-0.02 5.64
0.15 5.61
0.21 5.54
-0.09 5.44
0.08 5.35
-0.15 5.31
0.04 5.25
-0.15 5.18
0.02 5.09
-0.02 4.8
-0.11 4.73
-0.15 4.6
0.15 4.47
0.06 4.15
-0.15 4.14
};
\addplot[goe] table[x expr=1+\thisrow{d},y=v]{d v
0.15 4.79
-0.15 4.6
0.28 4.55
0.02 4.34
0.25 4.28
-0.15 4.25
0.12 4.22
0.06 4.08
-0.11 3.98
-0.09 3.79
};
\addplot[gdie] table[x expr=2+\thisrow{d},y=v]{d v
0.02 5.44
0.02 5.09
-0.04 3.76
0.24 3.74
0.13 3.68
-0.21 3.58
0.04 3.45
0.24 3.38
0.13 3.3
-0.21 3.1
};
\addplot[gcc] table[x expr=3+\thisrow{d},y=v]{d v
0.01 5.96
0.12 5.12
-0.12 4.95
0.03 4.88
-0.01 4.3
0.1 4.2
-0.23 4.0
0.07 3.8
-0.1 3.75
0.2 3.69
-0.23 3.53
0.01 3.43
0.12 3.23
-0.1 3.18
};
\addplot[ghv] table[x expr=4+\thisrow{d},y=v]{d v
-0.03 2.97
0.06 2.87
-0.12 2.71
0.1 2.58
-0.03 2.39
0.12 2.32
0 2.06
0.01 1.83
-0.16 1.8
0.14 1.74
-0.05 1.65
-0.29 1.6
0.06 1.58
0.2 1.54
-0.11 1.5
0.1 1.4
-0.24 1.35
-0.07 1.3
0.1 1.28
-0.29 1.15
-0.12 1.1
0.06 1.05
0.23 1.0
};
\addplot[med] coordinates {(0,5.31) (1,4.27) (2,3.62) (3,3.9) (4,1.6)};
\def\Lone{0.8635}
\brk{0}{0.9}{1}{0.808}{0.657}{ns}
\brk{1.1}{1.9}{1}{0.657}{0.738}{ns}
\brk{2.1}{3}{1}{0.738}{0.803}{ns}
\brk{0}{2}{2}{-1}{-1}{ns}
\brk{3}{4}{2}{-1}{0.429}{***}
\brk{1}{3}{3}{-2}{-2}{ns}
\brk{2}{4}{4}{-3}{-2}{*}
\brk{0}{3}{5}{-2}{-4}{ns}
\brk{1}{4}{6}{-5}{-4}{***}
\brk{0}{4}{7}{-5}{-6}{****}
\end{axis}
%% ---------------- M
\begin{axis}[gp, at={(529.3pt,-771.78pt)}, width=100.7pt, height=101.56pt,
 ymin=0, ymax=8, ytick={0,2,4,6,8}, ylabel={IgA [g/l]},
 ylabel style={at={(axis description cs:-0.182,0.5)}}]
\addplot[gpe] table[x expr=\thisrow{d},y=v]{d v
-0.23 6.91
0.22 6.87
0 6.72
0.22 5.91
-0.23 5.83
0 5.83
-0.11 5.48
0.12 5.28
0.22 4.6
-0.23 4.57
0 4.38
0 4.08
0.22 3.97
0 3.69
0 3.32
0 2.98
};
\addplot[goe] table[x expr=1+\thisrow{d},y=v]{d v
-0.21 6.78
0.09 6.78
-0.05 6.54
0.26 6.54
-0.23 6.41
0.07 6.25
0.12 4.03
-0.06 3.77
0.09 3.54
-0.06 3.32
};
\addplot[gdie] table[x expr=2+\thisrow{d},y=v]{d v
-0.12 5.73
0.02 5.57
0.02 5.22
0 4.9
0.06 3.6
-0.06 3.57
0.23 3.55
-0.08 3.41
-0.25 3.28
0.23 3.19
};
\addplot[gcc] table[x expr=3+\thisrow{d},y=v]{d v
-0.12 6.73
0.12 6.6
0 6.44
-0.06 5.93
0.08 5.86
-0.23 4.86
0.23 4.75
0.1 4.7
-0.1 4.65
0 4.55
0.15 4.5
-0.14 4.03
0.12 3.9
0 3.8
0 3.33
};
\addplot[ghv] table[x expr=4+\thisrow{d},y=v]{d v
-0.12 2.98
0.1 2.95
-0.08 2.52
0.08 2.48
-0.2 2.22
0.2 2.18
-0.02 2.09
0.15 2.03
-0.25 2.0
0.2 1.98
-0.1 1.96
0.05 1.94
-0.2 1.9
0.25 1.88
-0.08 1.83
0.08 1.77
-0.16 1.72
0 1.66
0.12 1.6
-0.12 1.33
0.04 1.29
0.15 1.26
-0.18 1.16
};
\addplot[med] coordinates {(0,4.94) (1,6.33) (2,3.575) (3,4.7) (4,1.94)};
\def\Lone{0.9825}
\brk{0}{0.9}{1}{0.922}{0.906}{ns}
\brk{1.1}{1.9}{1}{0.906}{0.774}{ns}
\brk{2.1}{3}{1}{0.774}{0.899}{ns}
\brk{0}{2}{2}{-1}{-1}{ns}
\brk{3}{4}{2}{-1}{0.431}{****}
\brk{1}{3}{3}{-2}{-2}{ns}
\brk{2}{4}{4}{-3}{-2}{**}
\brk{0}{3}{5}{-2}{-4}{ns}
\brk{1}{4}{6}{-5}{-4}{****}
\brk{0}{4}{7}{-5}{-6}{****}
\end{axis}
%% panel labels
\begin{scope}[every node/.style={font=\bfseries\fontsize{18}{21}\selectfont}]
\node at (23.8pt,-23.6pt) {(A)};
\node at (192.2pt,-23.6pt) {(B)};
\node at (343.2pt,-23.6pt) {(C)};
\node at (504.8pt,-23.6pt) {(D)};
\node at (660.8pt,-23.6pt) {(E)};
\node at (22.4pt,-293.6pt) {(F)};
\node at (193.6pt,-293.6pt) {(G)};
\node at (345pt,-293.6pt) {(H)};
\node at (506.8pt,-293.6pt) {(I)};
\node at (665.6pt,-293.6pt) {(J)};
\node at (204.2pt,-560.4pt) {(K)};
\node at (355.4pt,-560.4pt) {(L)};
\node at (519.8pt,-552.2pt) {(M)};
\end{scope}
\end{tikzpicture}
\end{document}
